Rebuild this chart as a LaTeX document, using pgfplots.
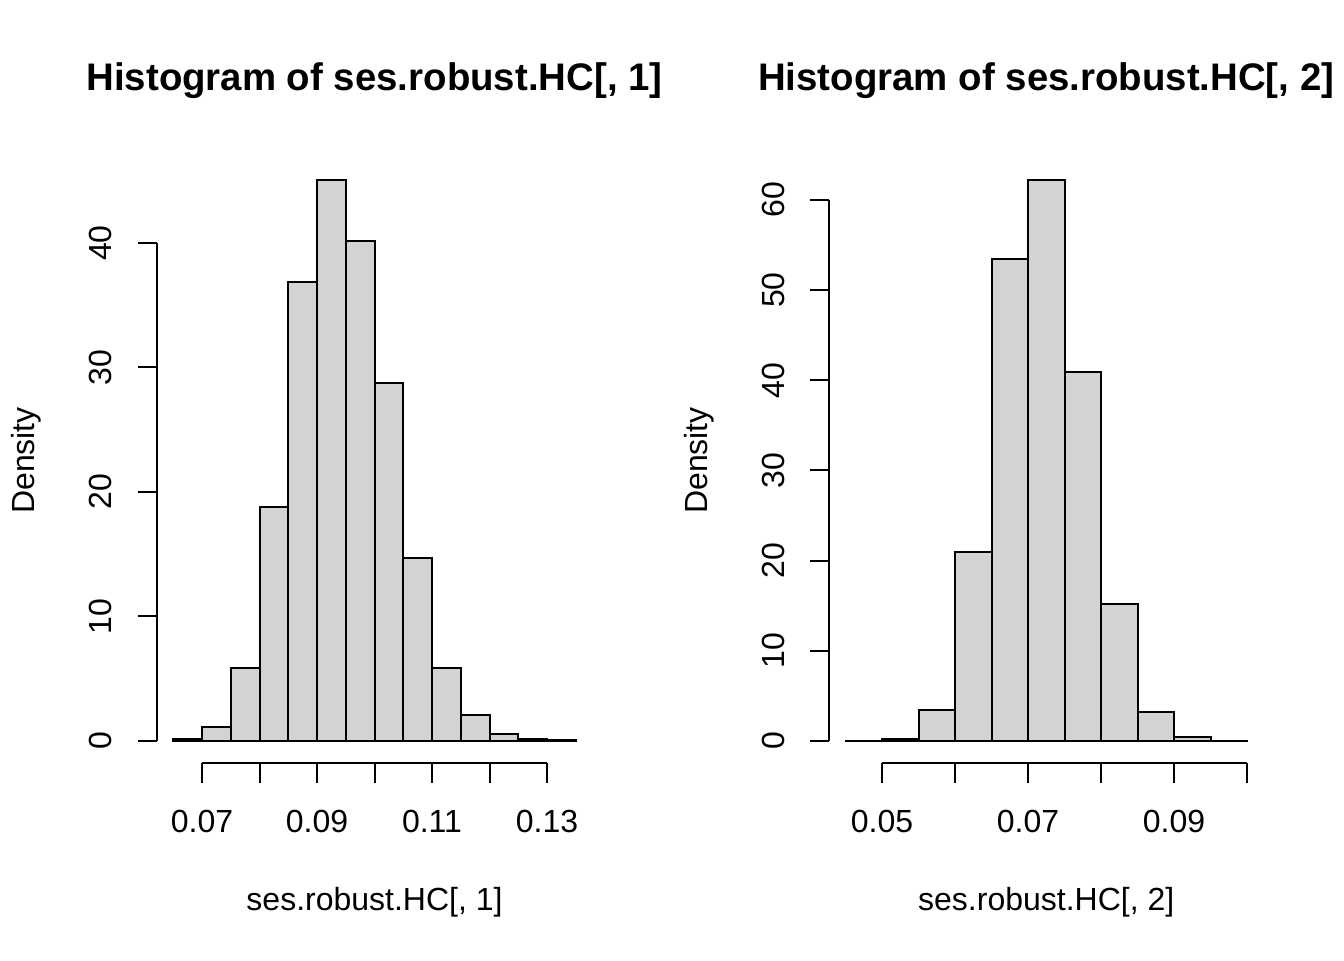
\documentclass[border=0pt]{standalone}
\usepackage{fontspec}
\setmainfont{Liberation Sans}
\usepackage{pgfplots}
\pgfplotsset{compat=1.18}
\definecolor{barfill}{RGB}{211,211,211}
\newcommand{\rfont}{\fontsize{16}{19.2}\selectfont}
\pgfplotsset{rhist/.style={
  scale only axis, width=217.35pt, height=302.9pt,
  anchor=south west,
  axis x line*=bottom, axis y line*=left,
  axis line style={draw=none},
  tick align=outside, major tick length=9.6pt,
  major tick style={black, line width=1pt},
  minor tick num=0,
  scaled ticks=false,
  clip=false,
  xticklabel style={anchor=base, font=\rfont},
  xticklabel shift=24.7pt,
  yticklabel style={rotate=90, anchor=base, font=\rfont},
  yticklabel shift=13pt,
  every axis title shift=0pt,
  title style={at={(0.5,1)}, anchor=base, yshift=33.3pt, font=\bfseries\fontsize{19.2}{23}\selectfont},
  xlabel style={at={(axis description cs:0.5,0)}, anchor=base, yshift=-73.3pt, font=\rfont},
  ylabel style={at={(axis description cs:-0.282,0.5)}, anchor=base, font=\rfont},
}}
\begin{document}
\begin{tikzpicture}
\begin{axis}[rhist, at={(78.575pt,98.3pt)},
  xmin=0.0622, xmax=0.1378, ymin=-1.8024, ymax=46.86,
  xtick={0.07,0.08,0.09,0.10,0.11,0.12,0.13},
  xticklabels={0.07,,0.09,,0.11,,0.13},
  ytick={0,10,20,30,40}, yticklabels={0,10,20,30,40},
  title={Histogram of ses.robust.HC[, 1]},
  xlabel={ses.robust.HC[, 1]}, ylabel={Density}]
\addplot[ybar interval, fill=barfill, draw=black, line width=1pt] coordinates {
(0.065,0.14) (0.070,1.14) (0.075,5.86) (0.080,18.8) (0.085,36.9)
(0.090,45.06) (0.095,40.16) (0.100,28.76) (0.105,14.7) (0.110,5.86)
(0.115,2.11) (0.120,0.54) (0.125,0.14) (0.130,0.04) (0.135,0.04)};
\draw[line width=1pt] (axis cs:0.07,-1.8024) -- (axis cs:0.13,-1.8024);
\draw[line width=1pt] (axis cs:0.0622,0) -- (axis cs:0.0622,40);
\end{axis}
\begin{axis}[rhist, at={(414.72pt,98.3pt)}, width=216.8pt,
  xmin=0.0428, xmax=0.1022, ymin=-2.488, ymax=64.69,
  xtick={0.05,0.06,0.07,0.08,0.09,0.10},
  xticklabels={0.05,,0.07,,0.09,},
  ytick={0,10,20,30,40,50,60}, yticklabels={0,10,20,30,40,50,60},
  title={Histogram of ses.robust.HC[, 2]},
  xlabel={ses.robust.HC[, 2]}, ylabel={Density}]
\addplot[ybar interval, fill=barfill, draw=black, line width=1pt] coordinates {
(0.045,0.05) (0.050,0.26) (0.055,3.44) (0.060,20.96) (0.065,53.45)
(0.070,62.2) (0.075,40.9) (0.080,15.2) (0.085,3.2) (0.090,0.44)
(0.095,0.05) (0.100,0.05)};
\draw[line width=1pt] (axis cs:0.05,-2.488) -- (axis cs:0.10,-2.488);
\draw[line width=1pt] (axis cs:0.0428,0) -- (axis cs:0.0428,60);
\end{axis}
\pgfresetboundingbox
\useasboundingbox (0,0) rectangle (672pt,480pt);
\end{tikzpicture}
\end{document}
